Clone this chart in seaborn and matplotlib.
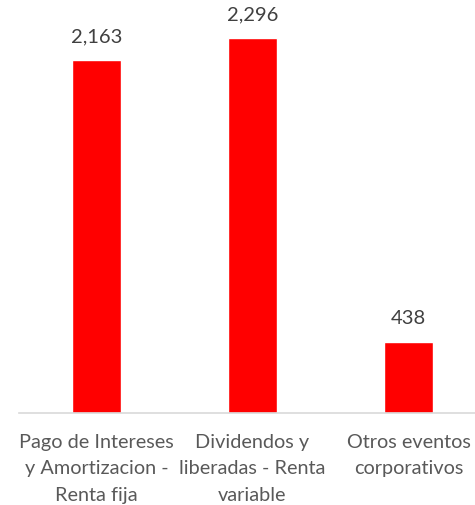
import matplotlib
matplotlib.use("Agg")
import matplotlib.pyplot as plt
import seaborn as sns
import pandas as pd

categories = ["Pago de Intereses\ny Amortizacion -\nRenta fija",
              "Dividendos y\nliberadas - Renta\nvariable",
              "Otros eventos\ncorporativos"]
values = [2163, 2296, 438]
value_labels = ["2,163", "2,296", "438"]

sns.set_style("white")
plt.rcParams['font.family'] = ['Lato', 'DejaVu Sans']

df = pd.DataFrame({"cat": categories, "val": values})

fig = plt.figure(figsize=(4.75, 5.05), dpi=100)
W, H = 475, 505
left_px, right_px = 18.5, 486.5
bottom_px, top_px = 413, 5
ax = fig.add_axes([left_px / W, (H - bottom_px) / H, (right_px - left_px) / W, (bottom_px - top_px) / H])

sns.barplot(data=df, x="cat", y="val", color="#FF0000", saturation=1, width=0.314, ax=ax)
ax.set_ylim(0, 2500)
ax.set_xlim(-0.5, 2.5)

for i, (v, lab) in enumerate(zip(values, value_labels)):
    ax.annotate(lab, (i, v), xytext=(0, 10.5), textcoords="offset points",
                ha="center", va="bottom", fontsize=14.5, color="#404040")

for s in ["top", "right", "left"]:
    ax.spines[s].set_visible(False)
ax.spines["bottom"].set_color("#D9D9D9")
ax.spines["bottom"].set_linewidth(1.2)
ax.set_yticks([])
ax.set_xlabel("")
ax.set_ylabel("")
ax.tick_params(axis="x", length=0, pad=15, labelsize=14.3, labelcolor="#595959")
for t in ax.get_xticklabels():
    t.set_linespacing(1.68)
    t.set_ha("center")

fig.savefig("out.png", dpi=100)
